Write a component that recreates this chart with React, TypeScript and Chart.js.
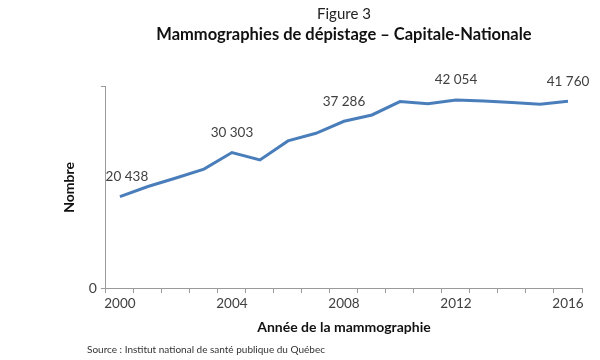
import React, { useEffect, useRef } from "react";
import { Chart, registerables } from "chart.js";

Chart.register(...registerables);

const years = ["2000","2001","2002","2003","2004","2005","2006","2007","2008","2009","2010","2011","2012","2013","2014","2015","2016"];
const counts = [20438, 22700, 24600, 26600, 30303, 28650, 32900, 34600, 37286, 38700, 41700, 41200, 42054, 41800, 41500, 41100, 41760];
const labelledYears = ["2000", "2004", "2008", "2012", "2016"];
const yTicks = [0, 45000];

const fmt = (v: number) => v.toLocaleString("fr-CA").replace(/\s/g, " ");

const FONT = "Lato, 'Open Sans', sans-serif";

const dataLabels = {
  id: "dataLabels",
  afterDatasetsDraw(chart: any) {
    const ctx = chart.ctx;
    const meta = chart.getDatasetMeta(0);
    ctx.save();
    ctx.font = `13.5px ${FONT}`;
    ctx.fillStyle = "#404040";
    ctx.textAlign = "center";
    ctx.textBaseline = "middle";
    meta.data.forEach((pt: any, i: number) => {
      if (!labelledYears.includes(years[i])) return;
      const dx = i === 0 ? 7 : 0;
      ctx.fillText(fmt(counts[i]), pt.x + dx, pt.y - 20);
    });
    ctx.restore();
  },
};

export default function App() {
  const ref = useRef<HTMLCanvasElement>(null);
  useEffect(() => {
    if (!ref.current) return;
    const chart = new Chart(ref.current, {
      type: "line",
      data: {
        labels: years,
        datasets: [
          {
            data: counts,
            borderColor: "#4a7ebb",
            borderWidth: 3,
            pointRadius: 0,
            tension: 0,
            fill: false,
          },
        ],
      },
      options: {
        animation: false,
        responsive: false,
        layout: { padding: { left: 61, right: 18, top: 0, bottom: 24 } },
        plugins: {
          legend: { display: false },
          tooltip: { enabled: false },
          title: {
            display: true,
            fullSize: false,
            text: "Figure 3",
            color: "#222",
            font: { family: FONT, size: 15, weight: "normal" },
            padding: { top: 5, bottom: 2 },
          },
          subtitle: {
            display: true,
            fullSize: false,
            text: "Mammographies de dépistage – Capitale-Nationale",
            color: "#111",
            font: { family: FONT, size: 16.5, weight: "bold" },
            padding: { top: 0, bottom: 42 },
          },
        },
        scales: {
          x: {
            type: "category",
            offset: true,
            grid: {
              offset: true,
              drawOnChartArea: false,
              drawTicks: true,
              tickLength: 5,
              color: "#9a9a9a",
            },
            border: { display: true, color: "#9a9a9a", width: 1 },
            ticks: {
              autoSkip: false,
              maxRotation: 0,
              color: "#404040",
              font: { family: FONT, size: 13.5 },
              padding: 3,
              callback: (_v: any, i: number) => (labelledYears.includes(years[i]) ? years[i] : ""),
            },
            title: {
              display: true,
              text: "Année de la mammographie",
              color: "#111",
              font: { family: FONT, size: 14, weight: "bold" },
              padding: { top: 4, bottom: 0 },
            },
          },
          y: {
            min: yTicks[0],
            max: yTicks[1],
            afterBuildTicks: (axis: any) => {
              axis.ticks = yTicks.map((v) => ({ value: v }));
            },
            grid: {
              drawOnChartArea: false,
              drawTicks: true,
              tickLength: 5,
              color: "#9a9a9a",
            },
            border: { display: true, color: "#9a9a9a", width: 1 },
            ticks: {
              color: "#404040",
              font: { family: FONT, size: 14 },
              padding: 4,
              callback: (v: any) => (v === 0 ? "0" : ""),
            },
            title: {
              display: true,
              text: "Nombre",
              color: "#111",
              font: { family: FONT, size: 14, weight: "bold" },
              padding: { top: 0, bottom: 7 },
            },
          },
        },
      },
      plugins: [dataLabels],
    });
    return () => chart.destroy();
  }, []);
  return (
    <div style={{ position: "fixed", left: 0, top: 0, width: 600, height: 360, background: "#fff" }}>
      <canvas ref={ref} width={600} height={360} style={{ display: "block" }} />
      <div
        style={{
          position: "absolute",
          left: 87,
          top: 343,
          fontFamily: FONT,
          fontSize: 10,
          color: "#333",
          whiteSpace: "nowrap",
        }}
      >
        Source : Institut national de santé publique du Québec
      </div>
    </div>
  );
}
